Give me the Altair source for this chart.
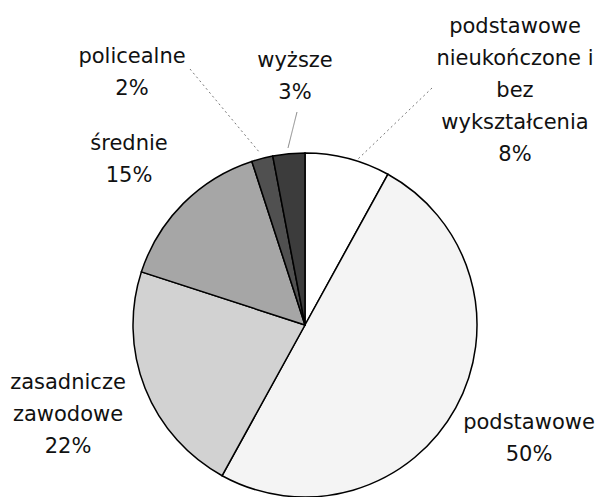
import altair as alt
import pandas as pd

# ---- data ----
categories = ["podstawowe nieukończone i bez wykształcenia", "podstawowe",
              "zasadnicze zawodowe", "średnie", "policealne", "wyższe"]
shares = [8, 50, 22, 15, 2, 3]
label_names = ["podstawowe\nnieukończone i\nbez\nwykształcenia", "podstawowe",
               "zasadnicze\nzawodowe", "średnie", "policealne", "wyższe"]

# ---- styles / layout (not data) ----
fills = ["#ffffff", "#f4f4f4", "#d2d2d2", "#a6a6a6", "#505050", "#3c3c3c"]
W, H = 588, 489
CX, CY, R = 297, 317, 172
FONT = "DejaVu Sans"
FS = 21
LH = 32
label_pos = {  # x center, first-line baseline (plot coords)
    categories[0]: (507, 25),
    categories[1]: (521, 421),
    categories[2]: (60, 381),
    categories[3]: (121, 142),
    categories[4]: (124, 55),
    categories[5]: (287, 59),
}
leaders = [  # (x, y, x2, y2, dash, color)
    (182, 61, 252, 145, [2, 3], "#777777"),
    (289, 104, 280, 140, [], "#888888"),
    (424, 80, 349, 152, [2, 3], "#777777"),
]

df = pd.DataFrame({"cat": categories, "share": shares, "idx": list(range(len(categories)))})

pie = alt.Chart(df).mark_arc(stroke="#000000", strokeWidth=1.5, outerRadius=R).encode(
    theta=alt.Theta("share:Q", stack=True),
    order=alt.Order("idx:Q"),
    color=alt.Color("cat:N", scale=alt.Scale(domain=categories, range=fills), legend=None),
    x=alt.value(CX),
    y=alt.value(CY),
)

layers = [pie]
for (x, y, x2, y2, dash, col) in leaders:
    layers.append(
        alt.Chart(pd.DataFrame({"a": [0]})).mark_rule(
            color=col, strokeWidth=1, strokeDash=dash if dash else [1, 0]
        ).encode(x=alt.value(x), y=alt.value(y), x2=alt.value(x2), y2=alt.value(y2))
    )

for name, lab, s in zip(categories, label_names, shares):
    lx, ly = label_pos[name]
    txt = lab + "\n" + f"{s}%"
    layers.append(
        alt.Chart(pd.DataFrame({"t": [txt]})).mark_text(
            font=FONT, fontSize=FS, color="#111111", align="center",
            baseline="alphabetic", lineBreak="\n", lineHeight=LH
        ).encode(text="t:N", x=alt.value(lx), y=alt.value(ly))
    )

chart = alt.layer(*layers).properties(
    width=W, height=H, padding=0, autosize=alt.AutoSizeParams(type="none")
).configure_view(stroke=None)

chart.save("out.html", embed_options={"renderer": "svg", "actions": False})
